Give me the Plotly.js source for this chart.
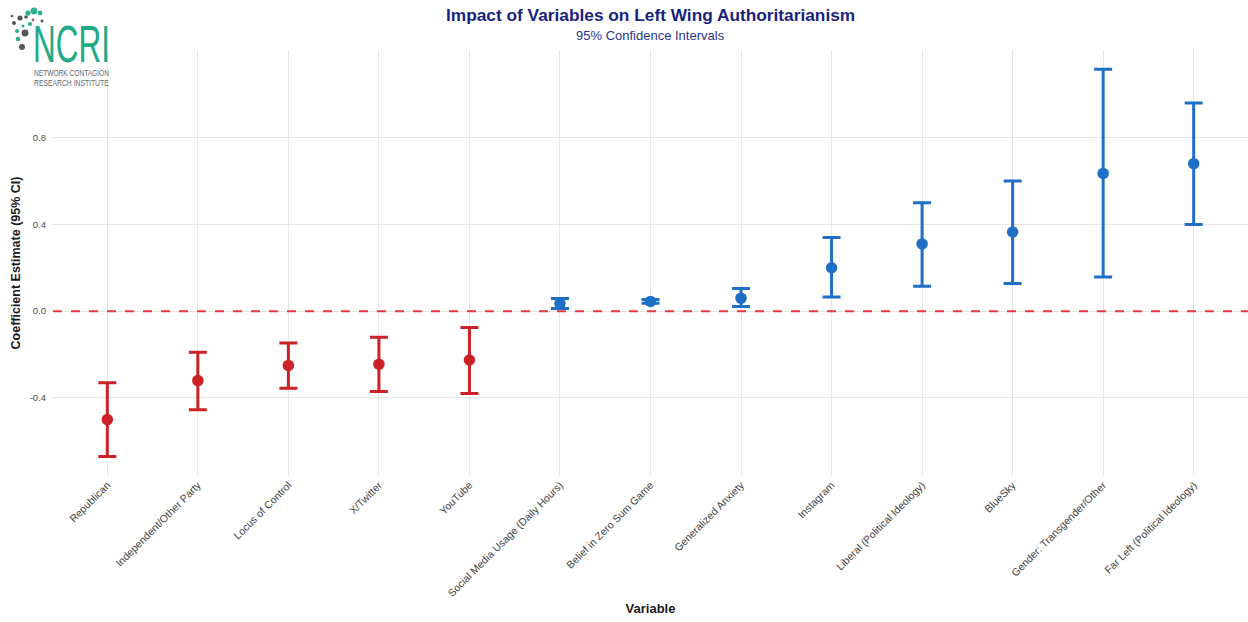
<!DOCTYPE html>
<html>
<head>
<meta charset="utf-8">
<script src="https://cdn.plot.ly/plotly-3.0.1.min.js"></script>
<style>html,body{margin:0;padding:0;background:#fff;}#chart{width:1248px;height:622px;}</style>
</head>
<body>
<div id="chart"></div>
<script>
// ---- data ----
const variables = [
  "Republican",
  "Independent/Other Party",
  "Locus of Control",
  "X/Twitter",
  "YouTube",
  "Social Media Usage (Daily Hours)",
  "Belief in Zero Sum Game",
  "Generalized Anxiety",
  "Instagram",
  "Liberal (Political Ideology)",
  "BlueSky",
  "Gender: Transgender/Other",
  "Far Left (Political Ideology)"
];
const estimate = [-0.50, -0.32, -0.25, -0.245, -0.225, 0.035, 0.045, 0.06, 0.20, 0.31, 0.365, 0.635, 0.68];
const ciLow    = [-0.67, -0.455, -0.355, -0.37, -0.38, 0.012, 0.037, 0.022, 0.065, 0.115, 0.128, 0.157, 0.40];
const ciHigh   = [-0.33, -0.19, -0.147, -0.12, -0.075, 0.058, 0.054, 0.105, 0.34, 0.50, 0.60, 1.115, 0.96];
const yTickVals = [-0.4, 0, 0.4, 0.8, 1.2];
const yTickText = ["-0.4", "0.0", "0.4", "0.8", ""];

const RED = "#cb2127";
const BLUE = "#1f6fc6";

function subset(cond) {
  const idx = estimate.map((v, i) => i).filter(i => cond(estimate[i]));
  return {
    x: idx.map(i => variables[i]),
    y: idx.map(i => estimate[i]),
    plus: idx.map(i => ciHigh[i] - estimate[i]),
    minus: idx.map(i => estimate[i] - ciLow[i])
  };
}
function makeTrace(s, color) {
  return {
    type: "scatter", mode: "markers",
    x: s.x, y: s.y,
    marker: {color: color, size: 11.5},
    error_y: {type: "data", symmetric: false, array: s.plus, arrayminus: s.minus,
              color: color, thickness: 3, width: 9},
    hoverinfo: "x+y", showlegend: false, cliponaxis: false
  };
}
const neg = subset(v => v < 0), pos = subset(v => v >= 0);

// ---- layout geometry ----
const W = 1248, H = 622;
const M = {l: 53, r: 0, t: 50, b: 146};
const pw = W - M.l - M.r, ph = H - M.t - M.b;
const px = x => (x - M.l) / pw;
const py = y => 1 - (y - M.t) / ph;

const shapes = [
  {type: "line", xref: "paper", yref: "y", x0: 0, x1: 1, y0: 0, y1: 0,
   line: {color: "#e8383d", width: 2, dash: "dash"}, layer: "above"},
  // logo backdrop
  {type: "rect", xref: "paper", yref: "paper", x0: px(0), x1: px(105), y0: py(90), y1: py(0),
   fillcolor: "#ffffff", line: {width: 0}, layer: "above"}
];
// logo network dots
const dots = [
  [28,13,2.6,"#2bb08c"],[34,11,3.4,"#2bb08c"],[40,13,2.4,"#2bb08c"],[30,24,2.1,"#2bb08c"],
  [17,31,2,"#2bb08c"],[18,39,2.3,"#2bb08c"],[23,26,1.5,"#2bb08c"],
  [20,18,2.6,"#555555"],[14,23,2,"#555555"],[26,17,1.8,"#555555"],[25,33,3.4,"#555555"],
  [22,47,3,"#555555"],[42,21,1.5,"#555555"],[12,16,1.3,"#555555"],[33,20,1.4,"#a05a6a"]
];
dots.forEach(d => shapes.push({
  type: "circle", xref: "paper", yref: "paper",
  x0: px(d[0]-d[2]), x1: px(d[0]+d[2]), y0: py(d[1]+d[2]), y1: py(d[1]-d[2]),
  fillcolor: d[3], line: {width: 0}, layer: "above"
}));

const LOGO_FONT = "Liberation Sans, Arial, sans-serif";
const annotations = [
  {text: "<b>Impact of Variables on Left Wing Authoritarianism</b>", xref: "paper", yref: "paper",
   x: 0.5, y: py(15), xanchor: "center", yanchor: "middle", showarrow: false,
   font: {family: "Liberation Sans, Arial, sans-serif", size: 17.3, color: "#1b1f7e"}},
  {text: "95% Confidence Intervals", xref: "paper", yref: "paper",
   x: 0.5, y: py(35), xanchor: "center", yanchor: "middle", showarrow: false,
   font: {family: "Liberation Sans, Arial, sans-serif", size: 13, color: "#2a3590"}},
  {text: "NCRI", xref: "paper", yref: "paper", x: px(31), y: py(44), xanchor: "left", yanchor: "middle",
   showarrow: false, font: {family: LOGO_FONT, size: 52, color: "#22a985"}},
  {text: "NETWORK CONTAGION", xref: "paper", yref: "paper", x: px(32), y: py(73.5), xanchor: "left", yanchor: "middle",
   showarrow: false, font: {family: LOGO_FONT, size: 8.5, color: "#666666"}},
  {text: "RESEARCH INSTITUTE", xref: "paper", yref: "paper", x: px(32), y: py(83), xanchor: "left", yanchor: "middle",
   showarrow: false, font: {family: LOGO_FONT, size: 8.5, color: "#666666"}}
];
// horizontal squeeze for the condensed logo lettering: [annotation index, target width px]
const logoSqueeze = [[2, 77], [3, 75], [4, 75]];

const layout = {
  width: W, height: H,
  margin: M,
  paper_bgcolor: "#ffffff", plot_bgcolor: "#ffffff",
  font: {family: "Liberation Sans, Arial, sans-serif", color: "#4d4d4d"},
  xaxis: {
    type: "category", categoryorder: "array", categoryarray: variables,
    range: [-0.6, 12.6], showgrid: true, gridcolor: "#e6e6e6", gridwidth: 1,
    zeroline: false, showline: false, ticks: "", tickangle: -45,
    tickfont: {size: 10.5, color: "#444444"},
    title: {text: "<b>Variable</b>", font: {size: 13, color: "#1a1a1a"}, standoff: 6},
    automargin: false
  },
  yaxis: {
    range: [-0.76, 1.204], tickvals: yTickVals, ticktext: yTickText,
    showgrid: true, gridcolor: "#e6e6e6", gridwidth: 1,
    zeroline: false, showline: false, ticks: "",
    ticklabelstandoff: 6,
    tickfont: {size: 9.5, color: "#4d4d4d"},
    title: {text: "<b>Coefficient Estimate (95% CI)</b>", font: {size: 12.5, color: "#1a1a1a"}, standoff: 6},
    automargin: false
  },
  shapes: shapes,
  annotations: annotations,
  showlegend: false
};

Plotly.newPlot("chart", [makeTrace(neg, RED), makeTrace(pos, BLUE)], layout, {displayModeBar: false}).then(gd => {
  logoSqueeze.forEach(([i, target]) => {
    const t = gd.querySelector('.annotation[data-index="' + i + '"] text.annotation-text');
    if (!t) return;
    const bb = t.getBBox();
    const s = Math.min(1, target / bb.width);
    t.setAttribute("transform", "translate(" + bb.x + ",0) scale(" + s + ",1) translate(" + (-bb.x) + ",0)");
  });
});
</script>
</body>
</html>
